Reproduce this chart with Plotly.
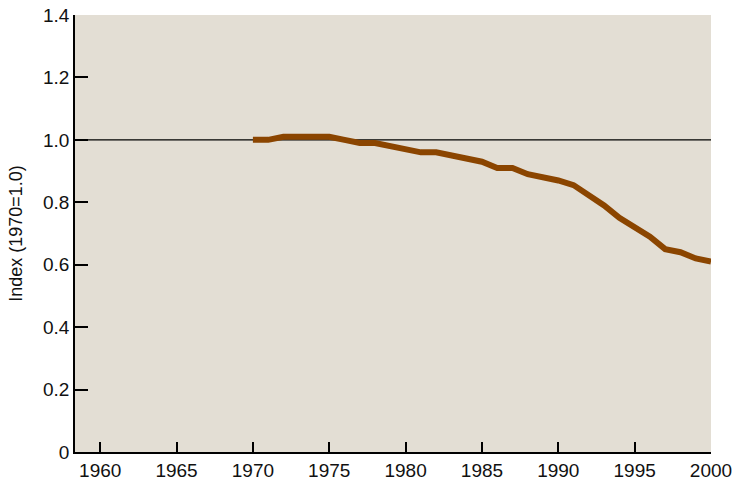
import plotly.graph_objects as go

years = list(range(1970, 2001))
index_values = [1.00, 1.00, 1.01, 1.01, 1.01, 1.01, 1.00, 0.99, 0.99, 0.98,
                0.97, 0.96, 0.96, 0.95, 0.94, 0.93, 0.91, 0.91, 0.89, 0.88,
                0.87, 0.855, 0.825, 0.79, 0.75, 0.72, 0.69, 0.65, 0.64, 0.62,
                0.61]
x_ticks = [1960, 1965, 1970, 1975, 1980, 1985, 1990, 1995, 2000]
y_ticks = [0, 0.2, 0.4, 0.6, 0.8, 1.0, 1.2, 1.4]
y_tick_labels = ["0", "0.2", "0.4", "0.6", "0.8", "1.0", "1.2", "1.4"]
reference_level = 1.0

fig = go.Figure()
fig.add_trace(go.Scatter(x=years, y=index_values, mode="lines",
                         line=dict(color="#8B4500", width=6), showlegend=False,
                         hoverinfo="x+y"))

fig.add_shape(type="line", xref="paper", x0=0, x1=1, yref="y",
              y0=reference_level, y1=reference_level,
              line=dict(color="black", width=1.2), layer="below")

font = dict(family="Liberation Sans, Arial, sans-serif", size=19, color="#111111")

fig.update_layout(
    width=740, height=480,
    margin=dict(l=75, r=29, t=15, b=28),
    paper_bgcolor="white", plot_bgcolor="#E3DED4",
    font=font,
    xaxis=dict(range=[1958.35, 2000], tickvals=x_ticks, ticks="inside",
               ticklen=10, tickwidth=1.5, tickcolor="black",
               showline=True, linecolor="black", linewidth=1.5,
               showgrid=False, zeroline=False, mirror=False, tickfont=font,
               automargin=False),
    yaxis=dict(range=[0, 1.4], tickvals=y_ticks, ticktext=y_tick_labels,
               ticks="inside", ticklen=13, tickwidth=1.5, tickcolor="black",
               showline=True, linecolor="black", linewidth=1.5,
               showgrid=False, zeroline=False, tickfont=font, automargin=False,
               title=dict(text="Index (1970=1.0)", font=dict(
                   family="Liberation Sans, Arial, sans-serif", size=18,
                   color="#111111"), standoff=16)),
)

fig.write_html("out.html", config={"displayModeBar": False},
               post_script="document.body.style.margin='0';document.body.style.padding='0';")
